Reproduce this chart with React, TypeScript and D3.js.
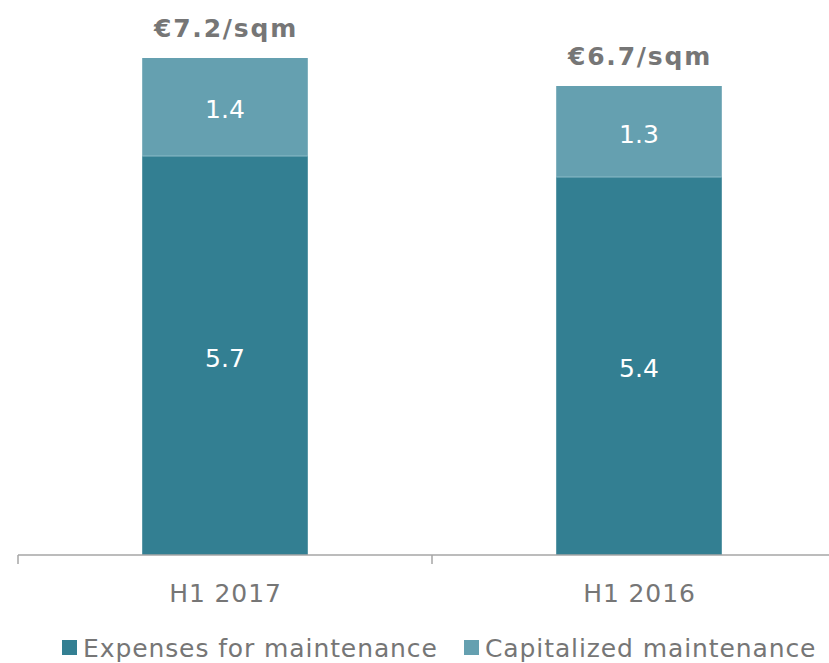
import React from "react";
import * as d3 from "d3";

const categories = ["H1 2017", "H1 2016"];
const expenses = [5.7, 5.4];
const capitalized = [1.4, 1.3];
const totalLabels = ["€7.2/sqm", "€6.7/sqm"];
const seriesNames = ["Expenses for maintenance", "Capitalized maintenance"];
const colors = ["#337f92", "#65a0b0"];

const W = 829;
const H = 663;
const FONT = "'DejaVu Sans', Verdana, sans-serif";
const GRAY = "#767676";

export default function App() {
  const baseY = 555;
  const x = d3
    .scaleBand<string>()
    .domain(categories)
    .range([18, 846])
    .paddingInner(0.6)
    .paddingOuter(0.3);
  const y = d3.scaleLinear().domain([0, 8]).range([baseY, baseY - 560]);
  const step = x.step();
  const bw = x.bandwidth();
  const tickXs = [0, 1, 2].map((i) => 18 + i * step);

  return (
    <div style={{ position: "absolute", left: 0, top: 0 }}>
      <svg width={W} height={H} style={{ display: "block" }}>
        <rect width={W} height={H} fill="#fff" />
        {categories.map((c, i) => {
          const x0 = x(c)!;
          const e = expenses[i];
          const k = capitalized[i];
          const cx = x0 + bw / 2;
          return (
            <g key={c}>
              <rect x={x0} y={y(e)} width={bw} height={y(0) - y(e)} fill={colors[0]} />
              <rect x={x0} y={y(e + k)} width={bw} height={y(e) - y(e + k)} fill={colors[1]} />
              <line x1={x0} x2={x0 + bw} y1={y(e)} y2={y(e)} stroke="#8dbcc8" strokeWidth={1} />
              <text x={cx} y={(y(0) + y(e)) / 2 + 11} textAnchor="middle" fill="#fff" fontFamily={FONT} fontSize={25}>
                {e.toFixed(1)}
              </text>
              <text x={cx} y={(y(e) + y(e + k)) / 2 + 11} textAnchor="middle" fill="#fff" fontFamily={FONT} fontSize={25}>
                {k.toFixed(1)}
              </text>
              <text x={cx + 1} y={y(e + k) - 21} textAnchor="middle" fill={GRAY} fontFamily={FONT} fontSize={25} fontWeight="bold" letterSpacing={1.8}>
                {totalLabels[i]}
              </text>
              <text x={cx + 0.5} y={602} textAnchor="middle" fill={GRAY} fontFamily={FONT} fontSize={25} letterSpacing={0.9}>
                {c}
              </text>
            </g>
          );
        })}
        <line x1={18} x2={W} y1={baseY} y2={baseY} stroke="#a6a6a6" strokeWidth={1.5} />
        {tickXs.map((tx, i) => (
          <line key={i} x1={tx} x2={tx} y1={baseY} y2={baseY + 9} stroke="#a6a6a6" strokeWidth={1.5} />
        ))}
        {seriesNames.map((s, i) => {
          const lx = i === 0 ? 62 : 464;
          return (
            <g key={s}>
              <rect x={lx} y={640} width={15} height={15} fill={colors[i]} />
              <text x={lx + 21} y={657} fill={GRAY} fontFamily={FONT} fontSize={25} letterSpacing={0.9}>
                {s}
              </text>
            </g>
          );
        })}
      </svg>
    </div>
  );
}
